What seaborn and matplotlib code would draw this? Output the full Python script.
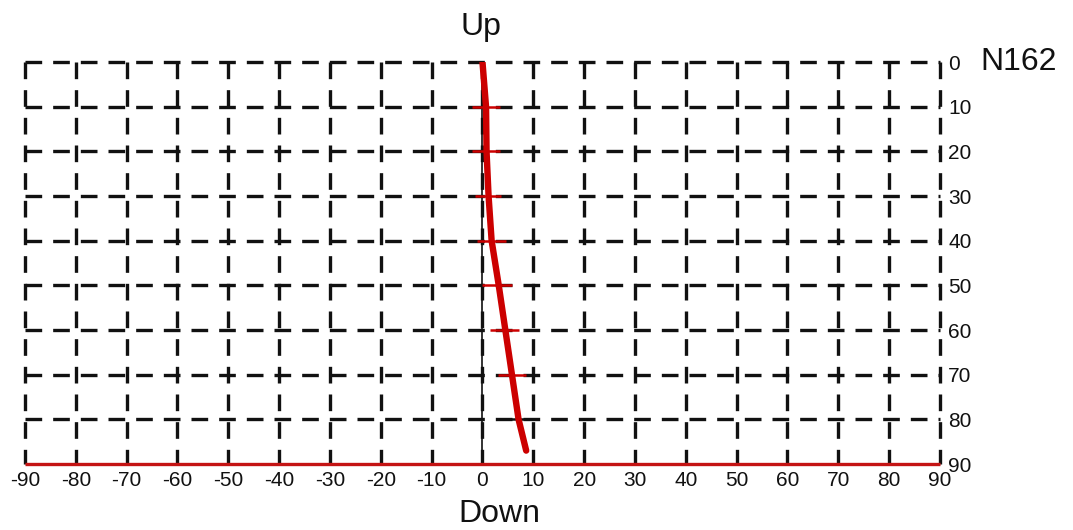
import matplotlib
matplotlib.use("Agg")
import matplotlib.pyplot as plt
import seaborn as sns
import numpy as np
import pandas as pd

# Profile of deflection versus depth
depth = [0, 10, 20, 30, 40, 50, 60, 70, 80, 87]
deflection = [0.0, 0.7, 0.8, 1.2, 1.8, 3.2, 4.5, 5.8, 7.1, 8.6]

# Horizontal spread markers at each 10-unit depth
bar_depth = [10, 20, 30, 40, 50, 60, 70, 80]
bar_center = [0.65, 0.7, 1.1, 1.8, 2.9, 4.3, 5.8, 7.1]
bar_half = [2.7, 2.7, 2.6, 2.9, 2.9, 2.9, 2.8, 2.8]
bar_colors = ["#cc0000"] * 7 + ["#111111"]

x_ticks = list(range(-90, 91, 10))
y_ticks = list(range(0, 91, 10))
grid_rows = list(range(0, 81, 10))

sns.set_theme(style="white")
plt.rcParams["font.family"] = ["Liberation Sans", "DejaVu Sans"]

fig = plt.figure(figsize=(10.73, 5.30), dpi=100)
ax = fig.add_axes([0.0233, 0.1245, 0.8527, 0.7585])

dash = (0, (5.0, 3.3))
# dashed grid
ax.vlines(x_ticks, 0, 90, colors="#111111", linewidth=2.4,
          linestyles=dash, zorder=1, clip_on=False)
ax.hlines(grid_rows, -90, 90, colors="#111111", linewidth=2.4,
          linestyles=dash, zorder=1, clip_on=False)

# reference axis and base line
ax.vlines([0], 0, 90, colors="#111111", linewidth=1.2, zorder=2)
ax.hlines([90], -90, 90, colors="#c41414", linewidth=2.4, zorder=3, clip_on=False)

# spread markers
for d, c, h, col in zip(bar_depth, bar_center, bar_half, bar_colors):
    ax.hlines(d, c - h, c + h, colors=col, linewidth=1.8, zorder=4)

# profile line
df = pd.DataFrame({"depth": depth, "deflection": deflection})
sns.lineplot(data=df, x="deflection", y="depth", sort=False, orient="y",
             color="#cc0000", linewidth=4.6, ax=ax, zorder=5)

ax.set_xlim(-90, 90)
ax.set_ylim(90, 0)
ax.set_xticks(x_ticks)
ax.set_xticklabels([str(v) for v in x_ticks], fontsize=15)
ax.set_yticks(y_ticks)
ax.set_yticklabels([str(v) for v in y_ticks], fontsize=15)
ax.get_yticklabels()[0].set_fontsize(11)
ax.yaxis.tick_right()
ax.tick_params(axis="both", length=0, colors="#111111")
ax.tick_params(axis="x", pad=5)
ax.tick_params(axis="y", pad=6)
ax.set_xlabel("")
ax.set_ylabel("")
for s in ax.spines.values():
    s.set_visible(False)
ax.grid(False)

ax.text(0.498, 1.067, "Up", transform=ax.transAxes, ha="center", va="baseline",
        fontsize=23, color="#111111")
ax.text(0.519, -0.144, "Down", transform=ax.transAxes, ha="center", va="baseline",
        fontsize=23, color="#111111")
ax.text(1.044, 0.98, "N162", transform=ax.transAxes, ha="left", va="baseline",
        fontsize=23, color="#111111")

fig.savefig("out.png", dpi=100)
